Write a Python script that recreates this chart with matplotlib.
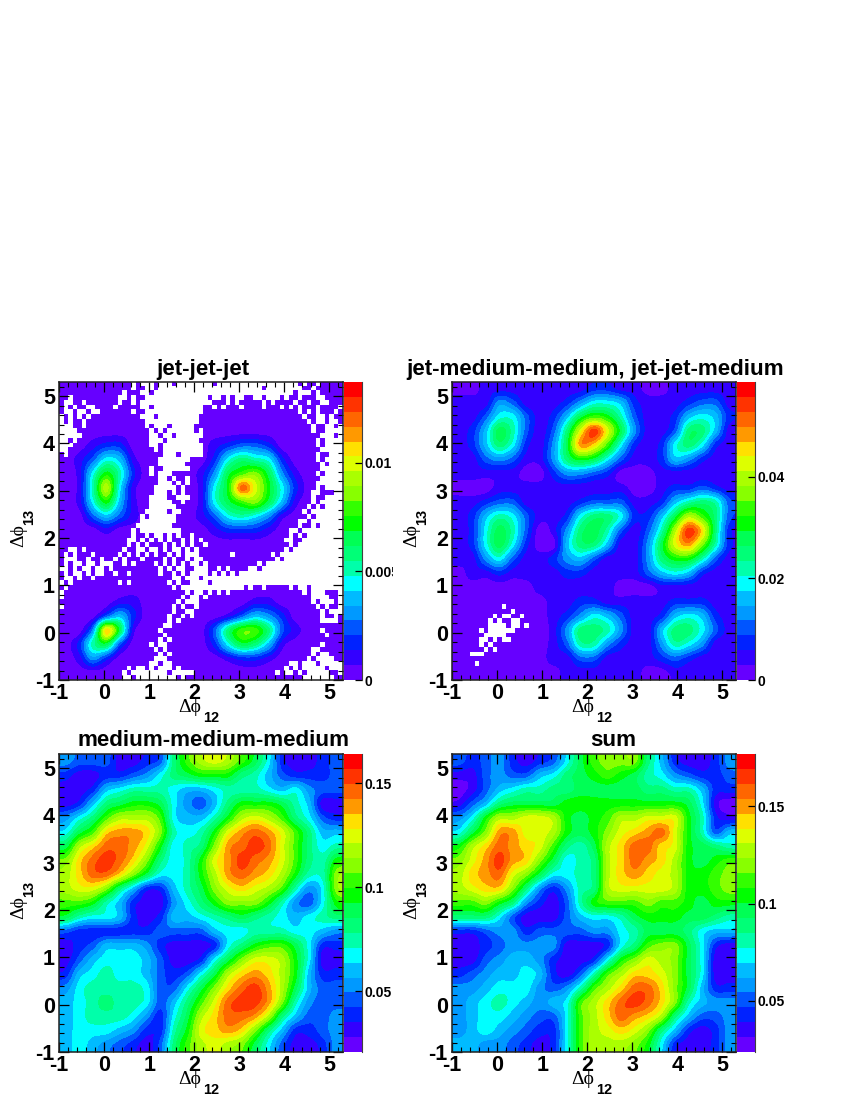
import numpy as np
import matplotlib
matplotlib.use("Agg")
import matplotlib.pyplot as plt
from matplotlib.colors import ListedColormap, BoundaryNorm
from matplotlib.ticker import MultipleLocator, FixedLocator
from matplotlib.transforms import Bbox

# Colour-band index for each coarse bin.
# Rows run from dphi13 = 5.15 (top) to -0.85, columns from dphi12 = -0.85 to 5.15.
bin_centres = [-0.85, -0.55, -0.25, 0.05, 0.35, 0.65, 0.95, 1.25, 1.55, 1.85, 2.15,
               2.45, 2.75, 3.05, 3.35, 3.65, 3.95, 4.25, 4.55, 4.85, 5.15]

jet_jet_jet = [
    [0,0,0,0,0,0,0,0,0,0,0,0,0,0,0,0,0,0,0,0,0],
    [0,0,0,0,0,0,0,0,0,0,0,0,0,0,0,0,0,0,0,0,0],
    [0,0,0,0,0,0,0,0,0,0,0,0,0,0,0,0,0,0,0,0,0],
    [0,0,0,0,0,0,0,0,0,0,0,0,0,0,0,0,0,0,0,0,0],
    [0,0,1,2,2,0,0,0,0,0,0,1,2,3,3,2,0,0,0,0,0],
    [0,1,3,6,5,1,0,0,0,0,0,2,6,8,7,6,2,0,0,0,0],
    [0,1,6,10,7,2,0,0,0,0,1,4,9,11,12,9,4,1,0,0,0],
    [0,1,7,13,6,1,0,0,0,0,1,6,10,17,14,10,6,2,0,0,0],
    [0,1,6,10,5,1,0,0,0,0,1,6,9,11,12,9,5,1,0,0,0],
    [0,0,3,5,3,1,0,0,0,0,1,3,6,7,6,4,1,0,0,0,0],
    [0,0,0,1,0,0,0,0,0,0,0,1,2,2,2,1,0,0,0,0,0],
    [0,0,0,0,0,0,0,0,0,0,0,0,0,0,0,0,0,0,0,0,0],
    [0,0,0,0,0,0,0,0,0,0,0,0,0,0,0,0,0,0,0,0,0],
    [0,0,0,0,0,0,0,0,0,0,0,0,0,0,0,0,0,0,0,0,0],
    [0,0,0,0,0,0,0,0,0,0,0,0,0,0,0,0,0,0,0,0,0],
    [0,0,0,0,1,1,0,0,0,0,0,0,0,0,1,1,0,0,0,0,0],
    [0,0,0,3,5,2,0,0,0,0,0,0,1,3,5,4,2,0,0,0,0],
    [0,0,4,15,9,1,0,0,0,0,0,3,8,11,11,8,3,1,0,0,0],
    [0,2,7,9,3,0,0,0,0,0,0,2,6,9,8,5,1,0,0,0,0],
    [0,1,4,2,0,0,0,0,0,0,0,0,1,2,2,1,0,0,0,0,0],
    [0,0,0,0,0,0,0,0,0,0,0,0,0,0,0,0,0,0,0,0,0],
]

jet_medium = [
    [0,0,1,1,1,1,1,1,1,1,2,2,1,1,0,0,1,1,1,1,1],
    [1,1,1,4,3,1,1,1,2,4,6,6,5,2,1,1,1,2,3,3,1],
    [1,1,3,6,6,3,1,2,5,9,11,10,7,3,1,1,2,5,6,5,2],
    [1,2,5,9,7,3,1,3,8,14,18,14,9,4,1,1,3,8,8,5,1],
    [1,2,5,8,6,2,1,4,9,16,15,11,6,2,1,2,6,8,6,2,1],
    [1,1,3,4,3,1,1,4,8,10,9,6,3,1,1,2,5,4,2,1,1],
    [1,1,1,1,1,0,0,2,4,4,3,2,0,0,0,1,1,1,1,1,1],
    [0,0,0,1,1,1,1,1,1,1,1,1,1,0,0,1,2,2,3,2,1],
    [1,1,2,3,3,1,1,1,1,2,3,3,3,1,1,2,5,7,8,7,3],
    [1,2,5,7,6,3,1,1,2,6,8,8,6,2,2,5,9,13,11,8,3],
    [1,2,6,9,7,3,0,1,4,8,9,7,3,1,3,7,13,18,15,8,2],
    [1,2,6,9,6,2,0,0,5,8,8,5,1,1,4,9,14,16,12,7,2],
    [1,1,4,6,3,1,1,2,4,5,3,1,1,1,4,8,10,10,7,3,1],
    [0,1,1,2,1,1,1,1,2,2,1,1,1,1,3,5,6,5,2,1,1],
    [0,0,0,0,0,0,1,1,1,1,1,1,0,0,0,1,1,1,1,1,1],
    [0,0,0,0,0,0,0,1,1,2,2,1,1,1,1,1,2,2,2,1,1],
    [0,0,0,0,0,0,0,1,2,4,6,5,3,1,1,2,5,6,5,2,1],
    [0,0,0,0,0,0,0,1,4,8,8,7,4,1,1,5,8,8,6,3,1],
    [0,0,0,0,0,0,0,1,3,7,7,4,2,1,1,4,7,6,4,1,1],
    [0,0,0,0,0,0,0,1,1,3,3,1,1,1,1,2,3,2,1,1,1],
    [0,0,0,0,0,0,0,0,1,1,1,1,1,1,0,0,1,1,1,1,1],
]

medium_medium = [
    [4,3,3,3,1,1,2,3,8,11,13,14,13,11,9,6,2,1,1,2,3],
    [2,1,1,2,2,3,4,6,8,9,10,10,10,8,7,5,3,2,2,2,3],
    [1,1,2,5,6,7,7,7,6,5,5,6,7,7,7,6,5,6,4,3,3],
    [1,2,5,8,9,10,10,9,6,4,3,5,8,10,10,10,9,7,5,1,1],
    [4,6,8,11,13,13,13,11,6,5,5,7,10,13,14,13,11,8,6,3,2],
    [6,9,11,15,16,16,15,12,7,6,7,10,14,16,17,16,14,11,8,5,5],
    [9,13,15,17,17,16,14,10,6,7,8,12,16,17,18,17,14,11,8,6,7],
    [12,15,17,18,17,15,12,8,6,7,10,14,16,18,17,16,14,11,8,7,10],
    [13,15,17,17,15,12,9,6,6,7,10,13,16,17,16,15,13,10,7,7,12],
    [13,14,14,12,8,5,2,2,5,7,9,12,14,15,14,13,11,7,4,6,12],
    [11,11,10,7,5,2,1,1,4,6,8,10,12,12,12,10,7,4,3,6,10],
    [9,7,6,6,5,2,1,2,5,5,6,7,8,9,8,7,6,5,6,7,8],
    [3,2,2,2,2,2,2,3,3,3,3,5,6,6,7,7,7,6,6,5,4],
    [1,2,3,5,5,5,4,2,1,1,1,2,6,8,10,11,11,9,6,2,2],
    [1,3,5,6,6,6,5,3,1,1,2,6,9,12,14,14,13,10,6,1,1],
    [2,5,6,7,6,6,5,3,2,3,6,9,13,15,16,15,13,10,5,2,2],
    [4,6,7,7,7,7,6,3,3,6,9,12,15,17,18,16,13,9,5,3,3],
    [5,6,7,8,7,7,6,3,5,8,11,14,17,18,18,16,12,7,4,3,3],
    [5,6,7,7,7,6,4,2,6,9,13,15,17,17,16,13,8,5,3,3,4],
    [5,6,6,6,5,4,2,2,7,10,14,15,16,15,12,8,5,2,2,3,4],
    [5,6,5,4,3,2,1,3,8,11,13,14,13,12,9,6,3,1,1,2,4],
]

sum_all = [
    [3,2,3,4,2,1,2,3,6,9,11,12,12,12,8,5,2,1,1,2,4],
    [1,1,3,4,3,3,5,6,8,9,10,11,10,9,7,6,4,3,2,2,3],
    [0,1,3,5,6,7,7,8,8,9,9,9,9,9,8,8,7,7,5,2,2],
    [1,3,5,8,9,9,9,9,10,10,10,10,10,10,10,10,10,9,6,1,0],
    [4,6,10,13,13,14,14,13,10,9,10,11,13,13,14,14,14,10,7,2,1],
    [6,9,12,16,16,14,14,13,10,9,10,12,14,15,16,17,14,10,7,3,5],
    [10,13,15,17,16,15,14,11,8,7,9,13,15,17,17,15,14,10,9,8,7],
    [12,14,16,18,16,15,12,9,6,7,8,13,15,17,16,15,13,10,9,10,11],
    [13,15,16,17,14,12,9,6,6,7,8,13,15,16,15,14,13,10,10,11,12],
    [13,14,15,15,12,8,4,2,4,7,8,13,14,14,14,14,13,10,10,11,12],
    [11,11,12,10,8,4,2,1,3,7,10,11,11,11,12,11,11,10,9,10,10],
    [8,8,8,6,3,1,1,1,3,5,6,6,7,9,10,10,10,9,9,8,7],
    [2,2,3,4,4,2,3,3,3,3,4,4,6,7,9,9,9,8,6,5,5],
    [1,1,2,3,4,4,4,4,1,1,1,2,6,8,11,12,12,9,6,2,1],
    [1,1,3,4,5,5,4,2,1,1,2,6,10,12,14,13,12,9,6,1,1],
    [2,3,4,5,5,6,5,2,1,3,7,11,13,15,15,14,12,9,6,1,1],
    [4,4,5,6,6,6,4,3,4,7,11,13,15,17,17,15,12,9,5,2,2],
    [4,5,6,7,6,5,4,5,6,11,13,15,17,18,17,15,12,7,5,4,4],
    [4,5,6,6,5,4,3,3,6,11,13,15,17,16,15,13,8,5,3,3,4],
    [4,5,6,5,4,3,2,2,6,11,13,14,15,14,12,8,5,2,1,2,4],
    [5,5,4,4,3,2,1,2,6,11,13,13,13,12,10,6,2,1,1,2,4],
]

# Empty bins of the jet-jet-jet panel on a 0.1 raster ('.' = empty, '#' = filled),
# top row at dphi13 = 5.25, left column at dphi12 = -0.95.
jjj_filled = [
    "########## ######.#.. .#...#.... ....#..... .......... ...#.##.## ###",
    "########## ######.##. .#........ .......... .....#.... ....##.### ###",
    "########## ####.###.. #......... .......... .......... ..#...#.## ###",
    "##.####### ###..#.##. .......... ...#..#.#. .##..#...# .##.###..# ###",
    "#..##.#### ###.##.#.. .......... ....###.#. #####.#.## ##.##.##.. ###",
    "#.#.##..## ##.#####.. #......... ..##.#.### .####.###. #.#.###.## ##.",
    "#..#..#..# ######.##. .......... ..######## ########## ###.#.#.## #.#",
    ".#.#.#.### ########.. .#........ .######### ########## ####.##..# .##",
    ".#.##.#### #########. .......... .######### ########## #####.#..# ..#",
    "...##.#### #########. #...#..... ########## ########## ######.##. .#.",
    "....###### ########## .#.#...... #.######## ########## ######.##. ...",
    ".....##### ########## ..#..#.... ..######## ########## ########.. .#.",
    "..#.###### ########## ...#...... .######### ########## #######.#. ...",
    "...####### ########## ..#....... ..######## ########## #######.#. ...",
    "..######## ########## #.#....... ..######## ########## ########.. ...",
    "#.######## ########## ###...#... ..######## ########## #######.## ...",
    "########## ########## ##.......# ########## ########## #######.#. ...",
    "########## ########## ##......## ########## ########## ########.# ...",
    "########## ########## .##......# ########## ########## ########.. ...",
    "########## ########## .#...##### ########## ########## #######.#. ...",
    "########## ########## ##..#.##.# ########## ########## ########.. ...",
    "########## ########## ##...#.#.# ########## ########## #######... ...",
    "########## ########## #.....#.## ########## ########## #######.#. ...",
    "########## ########## #...#.#.## ########## ########## ######..## #..",
    "########## ########## ....##...# ########## ########## ######.##. ...",
    "########## ########## .....##.## ########## ########## ######.#.. ...",
    "########## ########## ......#### ########## ########## #####.#.#. ...",
    "########## #########. ....#..### ########## ########## ####.#.... ...",
    "########## ########.# ......#### ########## ########## #####.#... ...",
    "########## ########.. ......#### ########## ########## ###..#.... ...",
    "########## #######... .....##### ########## ########## ###.##.#.. ...",
    "########## ######.#.. .......### ########## ########## #..#...... ...",
    "########## ######.##. #..#.#.##. ########## ########## #.#.#..... ...",
    "########## #####..#.# .#.#.##.#. #.######## ########## ..##...... ...",
    "########## #####.#.#. ###.#.#.#. ##.####### ########## #.#....... ...",
    "##..#.#### ####.##..# ..#.#..#.# .######### ########## .#........ ...",
    "#.#.###.## ###.#.#.#. #.##.#.#.. .#######.# #######.#. .......... ...",
    "#...##.##. ##.#.###.# ###.#.##.# ..######## ########.# .......... ...",
    "#.#..#..#. ..##.#.### #.#.#.#.#. .#.####### ####.#.... .......... ...",
    "..#.#..#.. #.######## ##.#.#..## ...##.#.## ##..#..... .......... ...",
    "#.#..#.#.. ##.##.#### ##.##.#.#. ...#.#.#.# .......... .......... ...",
    "#..#.##.## ########## #####..#.. .#........ .......... .......... ...",
    ".#.####### ###.#.#### ####.#.##. ...#...... .......... .......... ...",
    "#.######## ########## #####.#... .......... .#.##.#### #.#..#.... ...",
    ".######### ########## ########.# ..#.#.#.## ########## ####.#...# ##.",
    ".######### ########## #######.#. .#.####### ########## ######.... ##.",
    "########## ########## ######.#.. .######### ########## ######.#.. .#.",
    ".######### ########## #####.#.## .######### ########## #######.#. ##.",
    "########## ########## #####.##.. ########## ########## ########.# ...",
    "########## ########## ####.##.#. ########## ########## ########.# #.#",
    "########## ########## ####.#.### ########## ########## ########.. ..#",
    "########## ########## ###..##### ########## ########## ########## ###",
    "########## ########## ##.####### ########## ########## ########.# ###",
    "########## ########## ###.###### ########## ########## #########. ###",
    "########## ########## ##.#.##### ########## ########## ########## ###",
    "########## ########## .#..###### ########## ########## ########.# ###",
    "########## ########## #.#.###### ########## ########## ######..## ###",
    "########## ########## ##.#.##### ########## ########## ######.#.. ###",
    "########## ########## #...###### ########## ########## #####.#... .##",
    "########## ########## ..#..##### ########## ########## #..#...#.. ...",
    "########## #####.#..# .#...#.### ########## ########## .#.#.....# ...",
    "########## ####.#.... ....#..... ########## ########.# ..#.#..... ##.",
    "########## ####..#... ......#.## ########## ########## ####...... .##",
]

# Empty bins of the second panel: lower-left corners (dphi12, dphi13) of 0.1 bins.
jm_empty_x = [-0.1, 0.0, 0.1, -0.1, 0.0, 0.1, -0.1, 0.0, 0.1, -0.2, -0.2, 0.0, 0.2, 0.3,
              0.1, 0.3, 0.1, 0.2, -0.1, -0.2, 0.3, 0.5, 0.4, 0.6, 0.3, 0.4, -0.4, -0.3,
              -0.2, -0.4, -0.3, -0.1, 0.1, 0.2, -0.2, -0.4, -0.3, -0.1, -0.5, -0.4, -0.6, -0.5]
jm_empty_y = [-0.1, -0.1, -0.1, 0.0, 0.0, 0.0, 0.1, 0.1, 0.1, 0.0, 0.1, 0.2, 0.0, 0.0,
              0.5, 0.4, 0.3, 0.3, 0.3, 0.2, 0.2, 0.3, 0.2, 0.1, 0.1, 0.1, 0.0, -0.1,
              -0.1, -0.2, -0.2, -0.2, -0.2, -0.2, -0.3, -0.3, -0.4, -0.4, -0.5, -0.5, -0.5, -0.7]

palette = ['#6600ff', '#3300ff', '#0022ff', '#0055ff', '#0099ff', '#00bbff', '#00ffff',
           '#00ffaa', '#00ff77', '#00ff55', '#00ff00', '#33ff00', '#88ff00', '#aaff00',
           '#ddff00', '#ffe000', '#ff9900', '#ff6600', '#ff3300', '#ff0000']

titles = ['jet-jet-jet', 'jet-medium-medium, jet-jet-medium',
          'medium-medium-medium', 'sum']
grids = [jet_jet_jet, jet_medium, medium_medium, sum_all]
z_ranges = [(0.0, 0.01373), (0.0, 0.0587), (0.0207, 0.164), (0.0237, 0.177)]
cbar_ticks = [[0, 0.005, 0.01], [0, 0.02, 0.04], [0.05, 0.1, 0.15], [0.05, 0.1, 0.15]]
cbar_labels = [['0', '0.005', '0.01'], ['0', '0.02', '0.04'],
               ['0.05', '0.1', '0.15'], ['0.05', '0.1', '0.15']]
axis_ticks = [-1, 0, 1, 2, 3, 4, 5]

W, H = 850, 1100
plt.rcParams['font.family'] = ['Liberation Sans', 'DejaVu Sans']
plt.rcParams['font.weight'] = 'bold'
fig = plt.figure(figsize=(W / 100, H / 100), dpi=100)


def px_axes(x0, y0, x1, y1):
    return fig.add_axes([x0 / W, 1 - y1 / H, (x1 - x0) / W, (y1 - y0) / H])


def ftext(x, y, s, **kw):
    return fig.text(x / W, 1 - y / H, s, **kw)


panel_x = [59, 452, 59, 452]
panel_y = [382, 382, 754, 754]
title_x = [203, 595, 213, 613]
title_y = [369, 369, 740, 740]

cmap = ListedColormap(palette)
cmap.set_under(palette[0])
cmap.set_over(palette[-1])

# raster of empty bins per panel
empty = [np.zeros((63, 63)) for _ in range(4)]
empty[0] = np.array([[c == '.' for c in r.replace(' ', '')] for r in jjj_filled], dtype=float)
for x, y in zip(jm_empty_x, jm_empty_y):
    col = int(round((x + 1) / 0.1))
    row = int(round((5.2 - y) / 0.1))
    empty[1][row, col] = 1.0

for i in range(4):
    x0, y0 = panel_x[i], panel_y[i]
    ax = px_axes(x0, y0, x0 + 284, y0 + 298)
    zmin, zmax = z_ranges[i]
    step = (zmax - zmin) / 20
    z = zmin + (np.array(grids[i], dtype=float) + 0.5) * step
    norm = BoundaryNorm(np.linspace(zmin, zmax, 21), 20, clip=False, extend='neither')
    half = (bin_centres[1] - bin_centres[0]) / 2
    im = ax.imshow(z, cmap=cmap, norm=norm, aspect='auto', interpolation='catrom',
                   interpolation_stage='data',
                   extent=(bin_centres[0] - half, bin_centres[-1] + half,
                           bin_centres[0] - half, bin_centres[-1] + half))
    if empty[i].any():
        rgba = np.ones((63, 63, 4))
        rgba[..., 3] = empty[i]
        ax.imshow(rgba, aspect='auto', interpolation='nearest', extent=(-1, 5.3, -1, 5.3))
    ax.set_xlim(-1, 5.3)
    ax.set_ylim(-1, 5.3)
    ax.xaxis.set_major_locator(FixedLocator(axis_ticks))
    ax.yaxis.set_major_locator(FixedLocator(axis_ticks))
    ax.xaxis.set_minor_locator(MultipleLocator(0.2))
    ax.yaxis.set_minor_locator(MultipleLocator(0.2))
    ax.set_xticklabels([str(t) for t in axis_ticks])
    ax.set_yticklabels([str(t) for t in axis_ticks])
    ax.tick_params(which='major', direction='in', length=7, width=0.9, top=True, right=True,
                   labelsize=15.5)
    ax.tick_params(which='minor', direction='in', length=3.4, width=0.8, top=True, right=True)
    ax.tick_params(axis='x', which='major', pad=2.5)
    ax.tick_params(axis='y', which='major', pad=3)
    for s in ax.spines.values():
        s.set_linewidth(1.1)
        s.set_color('#202020')

    ftext(title_x[i], title_y[i], titles[i], ha='center', va='center',
          fontsize=16.1, fontweight='bold')

    # axis titles
    ftext(x0 + 131, y0 + 326, '\u0394\u03d5', family=['Liberation Serif', 'DejaVu Serif'],
          fontweight='normal', fontsize=14, ha='center', va='center')
    ftext(x0 + 144, y0 + 336, '12', fontsize=10.5, ha='left', va='center')
    ftext(x0 - 40, y0 + 154, '\u0394\u03d5', family=['Liberation Serif', 'DejaVu Serif'],
          fontweight='normal', fontsize=14, rotation=90, ha='center', va='center')
    ftext(x0 - 30, y0 + 143, '13', fontsize=10.5, rotation=90, ha='center', va='bottom')

    # colour bar
    cax = px_axes(x0 + 285, y0, x0 + 303, y0 + 298)
    cb = fig.colorbar(im, cax=cax, spacing='proportional', drawedges=False)
    cb.outline.set_visible(False)
    cb.set_ticks(cbar_ticks[i], labels=cbar_labels[i])
    cb.minorticks_off()
    cax.tick_params(axis='y', direction='in', length=5, width=0.9, labelsize=10, pad=1.5,
                    right=True, color='black')
    cax.spines['right'].set_visible(True)
    cax.spines['right'].set_linewidth(0.8)
    cax.spines['right'].set_color('#404040')
    if i == 0:
        clip = Bbox([[0, 0], [393, H]])
        for lab in cax.get_yticklabels():
            lab.set_clip_box(clip)
            lab.set_clip_on(True)

fig.savefig('out.png', dpi=100)
